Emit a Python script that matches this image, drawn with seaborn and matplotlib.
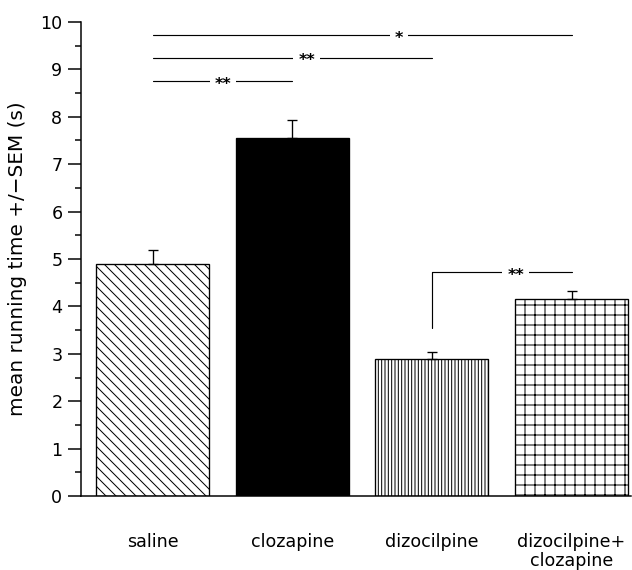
import matplotlib
matplotlib.use("Agg")
import matplotlib.pyplot as plt
import seaborn as sns
import numpy as np
import pandas as pd

# ---- data ----
groups = ["saline", "clozapine", "dizocilpine", "dizocilpine+\nclozapine"]
means = [4.90, 7.55, 2.88, 4.15]
sems = [0.28, 0.38, 0.15, 0.17]
# significance comparisons: (left group index, right group index), level, label, label x
sig_pairs = [(0, 3), (0, 2), (0, 1), (2, 3)]
sig_levels = [9.72, 9.24, 8.75, 4.72]
sig_labels = ["*", "**", "**", "**"]
sig_label_x = [1.765, 1.105, 0.505, 2.60]
bracket_drop = 3.55  # lower end of the vertical leg of the dizocilpine bracket

y_label = "mean running time +/\u2212SEM (s)"
y_ticks = list(range(0, 11))

# ---- figure ----
sns.set_style("ticks", rc={"axes.edgecolor": "black", "text.color": "black",
                           "axes.labelcolor": "black", "xtick.color": "black",
                           "ytick.color": "black"})
plt.rcParams["font.family"] = ["DejaVu Sans"]
plt.rcParams["hatch.linewidth"] = 0.6
plt.rcParams["hatch.color"] = "black"

DPI = 120
fig = plt.figure(figsize=(632 / DPI, 570 / DPI), dpi=DPI)
ax = fig.add_axes([81 / 632, 1 - 496 / 570, 550 / 632, (496 - 22) / 570])

df = pd.DataFrame({"group": groups, "mean": means})
sns.barplot(data=df, x="group", y="mean", hue="group", order=groups,
            palette=["white", "black", "white", "white"], width=0.81,
            edgecolor="black", linewidth=0.8, legend=False, errorbar=None, ax=ax)

hatches = ["\\\\\\\\", "", "||||||", "++"]
for patch, h in zip(ax.patches, hatches):
    patch.set_hatch(h)
    patch.set_edgecolor("black")

ax.errorbar(np.arange(len(groups)), means, yerr=[np.zeros(len(sems)), sems],
            fmt="none", ecolor="black", elinewidth=0.8, capsize=3, capthick=0.8, zorder=5)

# significance lines
for (a, b), lvl, lab, lx in zip(sig_pairs, sig_levels, sig_labels, sig_label_x):
    ax.plot([a, b], [lvl, lvl], color="black", lw=0.7, clip_on=False, zorder=6)
    ax.text(lx, lvl - 0.06, lab, ha="center", va="center", fontsize=9.5, fontweight="bold",
            color="black", bbox=dict(facecolor="white", edgecolor="none", pad=3), zorder=7)
a, b = sig_pairs[3]
ax.plot([a, a], [bracket_drop, sig_levels[3]], color="black", lw=0.7, zorder=6)

# axes styling
ax.set_xlim(-0.512, 3.426)
ax.set_ylim(0, 10)
ax.set_yticks(y_ticks)
ax.set_yticks(np.arange(0.5, 10, 1.0), minor=True)
ax.tick_params(axis="y", which="major", length=7.6, width=0.9, labelsize=10.5, pad=3.5)
ax.tick_params(axis="y", which="minor", length=3.6, width=0.9)
ax.set_xticks(range(len(groups)))
ax.set_xticklabels(groups, fontsize=10.5, va="top", linespacing=1.1)
ax.tick_params(axis="x", length=0, pad=22)
ax.set_xlabel("")
ax.set_ylabel(y_label, fontsize=12)
ax.yaxis.set_label_coords(-0.098, 0.5)
sns.despine(ax=ax)
for s in ["left", "bottom"]:
    ax.spines[s].set_linewidth(0.9)

fig.savefig("out.png", dpi=DPI)
